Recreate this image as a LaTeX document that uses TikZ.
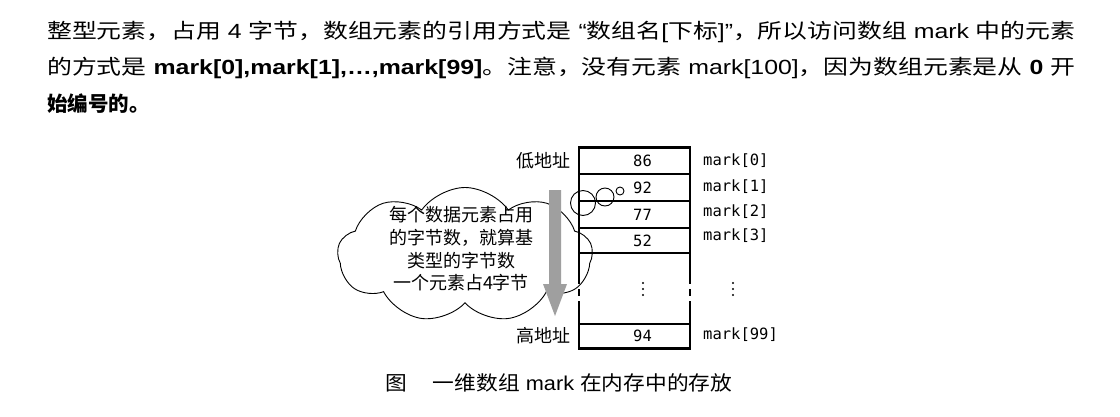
\documentclass[tikz,border=0pt]{standalone}
\usepackage{fontspec}
\usepackage{graphicx}
\setmainfont{Noto Sans CJK SC}
\newfontfamily\monof{DejaVu Sans Mono}
\newfontfamily\latf{Liberation Sans}
\usetikzlibrary{shapes.symbols}
\tikzset{
  body/.style={anchor=base west, inner sep=0pt, font=\fontsize{20.5}{24}\selectfont},
  cell/.style={draw, line width=1.2pt, minimum width=111pt, inner sep=0pt, font=\monof\fontsize{15.5}{17}\selectfont, execute at begin node={\hspace*{16pt}}},
  addr/.style={anchor=east, inner sep=0pt, font=\fontsize{18}{20}\selectfont},
  idx/.style={anchor=west, inner sep=0pt, font=\monof\fontsize{15.5}{17}\selectfont},
  bubble/.style={circle, draw, line width=0.9pt, inner sep=0pt},
  border/.style={line width=1.6pt},
  edge/.style={line width=2pt}
}
\begin{document}
\begin{tikzpicture}[x=1pt,y=-1pt]
\useasboundingbox[fill=white] (0,0) rectangle (1120,416);

% body text
\node[body] (l1) at (47,38.5) {\resizebox{1028pt}{\height}{整型元素，占用{\latf\ 4 }字节，数组元素的引用方式是{\latf\ “}数组名{\latf [}下标{\latf ]”}，所以访问数组{\latf\ mark }中的元素}};
\node[body] (l2) at (47,74.5) {\resizebox{1028pt}{\height}{的方式是{\latf\bfseries\ mark[0],mark[1],…,mark[99]}。注意，没有元素{\latf\ mark[100]}，因为数组元素是从{\latf\bfseries\ 0 }开}};
\node[body] (l3) at (47,111) {\textbf{始编号的。}};

% cloud
\node[cloud, draw, cloud puffs=9, cloud puff arc=110, aspect=1.9, minimum width=255pt, minimum height=135pt, inner sep=0pt, line width=0.9pt] (cl) at (465,255) {};
\node[align=center, inner sep=0pt, font=\fontsize{18}{22.7}\selectfont] (ct) at (461,249) {每个数据元素占用\\的字节数，就算基\\类型的字节数\\一个元素占4字节};

% gray arrow
\fill[gray!75] (549,190) -- (561,190) -- (561,284) -- (567,284) -- (555,316) -- (543,284) -- (549,284) -- cycle;

% memory cells
\node[cell, minimum height=26pt] (c0) at (634.5,161) {86};
\node[cell, minimum height=27pt] (c1) at (634.5,187.5) {92};
\node[cell, minimum height=27pt] (c2) at (634.5,214.5) {77};
\node[cell, minimum height=25pt] (c3) at (634.5,240.5) {52};
\node[cell, minimum height=24pt] (c99) at (634.5,336) {94};
\draw[edge] (c0.north west) -- (c0.north east);
\draw[edge] (c99.south west) -- (c99.south east);
\draw[border] (c0.north west) -- (c3.south west);
\draw[border] (c0.north east) -- (c3.south east);
\draw[border] (c99.north west) -- (c99.south west);
\draw[border] (c99.north east) -- (c99.south east);
% middle section with gaps
\draw[border] (579,253) -- (579,284) (579,289) -- (579,296) (579,301) -- (579,324);
\draw[border] (690,253) -- (690,284) (690,289) -- (690,296) (690,301) -- (690,324);
% vertical ellipses
\foreach \yy in {283,289,295} {
  \fill (643,\yy) circle (1.1pt);
  \fill (733,\yy) circle (1.1pt);
}

% address labels
\node[addr] (lo) at (571,161) {低地址};
\node[addr] (hi) at (571,336) {高地址};

% index labels
\node[idx] (m0) at (703,161) {mark[0]};
\node[idx] (m1) at (703,187) {mark[1]};
\node[idx] (m2) at (703,212) {mark[2]};
\node[idx] (m3) at (703,236) {mark[3]};
\node[idx] (m99) at (703,335) {mark[99]};

% thought bubbles
\node[bubble, minimum size=25pt] (b1) at (583,203) {};
\node[bubble, minimum size=18pt] (b2) at (605,197) {};
\node[bubble, minimum size=8pt] (b3) at (620,191) {};

% caption
\node[anchor=west, inner sep=0pt, font=\fontsize{20}{22}\selectfont] (cap) at (385,383) {\resizebox{347pt}{\height}{图\hspace{24pt}一维数组{\latf\ mark }在内存中的存放}};
\end{tikzpicture}
\end{document}
